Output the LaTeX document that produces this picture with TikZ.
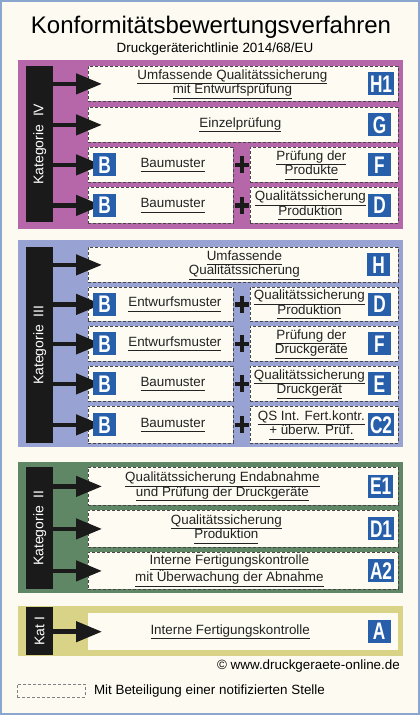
\documentclass[tikz,border=0pt]{standalone}
\usepackage{fontspec}
\setmainfont{Liberation Sans}
\newfontfamily\badgefont{Liberation Sans}[FakeStretch=0.72]
\usetikzlibrary{arrows.meta,calc}

\definecolor{paper}{RGB}{253,251,241}
\definecolor{boxfill}{RGB}{254,252,242}
\definecolor{frameblue}{RGB}{138,166,207}
\definecolor{magentapanel}{RGB}{181,103,170}
\definecolor{bluepanel}{RGB}{152,163,212}
\definecolor{greenpanel}{RGB}{96,135,101}
\definecolor{yellowpanel}{RGB}{216,211,135}
\definecolor{badgeblue}{RGB}{40,95,170}
\definecolor{barblack}{RGB}{26,26,26}
\definecolor{dashgrey}{RGB}{70,70,70}
\definecolor{textgrey}{RGB}{34,34,34}

\newcommand\ul[1]{\underline{#1\vphantom{g}}}

\tikzset{
  panel/.style={fill=#1, anchor=north west, minimum width=385pt, inner sep=0pt},
  catbar/.style={fill=barblack, anchor=north west, minimum width=27pt, inner sep=0pt},
  cattext/.style={text=white, rotate=90, inner sep=0pt, font=\fontsize{14}{14}\selectfont},
  procbox/.style={draw=dashgrey, dash pattern=on 3pt off 2pt, line width=0.8pt,
    fill=boxfill, anchor=north west, inner sep=0pt},
  fullbox/.style={procbox, minimum width=310pt},
  leftbox/.style={procbox, minimum width=145pt},
  rightbox/.style={procbox, minimum width=148pt},
  plainbox/.style={fill=boxfill, anchor=north west, inner sep=0pt, minimum width=310pt},
  badge/.style={fill=badgeblue, text=white, anchor=west, inner xsep=2pt, inner ysep=0pt,
    minimum height=23pt, minimum width=23pt,
    font=\badgefont\bfseries\fontsize{24}{24}\selectfont},
  lbl/.style={align=center, text=textgrey, inner sep=0pt, font=\fontsize{13.4}{14.5}\selectfont},
  catarrow/.style={draw=barblack, line width=4.5pt, -{Triangle[length=26pt,width=20pt]},
    shorten >=-14pt},
  plusmark/.style={minimum width=14pt, minimum height=17pt, inner sep=0pt,
    path picture={\draw[barblack, line width=4.5pt]
      (path picture bounding box.north) -- (path picture bounding box.south)
      (path picture bounding box.west) -- (path picture bounding box.east);}}
}

\begin{document}
\begin{tikzpicture}[x=1pt, y=-1pt]
    \useasboundingbox (0,0) rectangle (420,715);
    \fill[paper] (0,0) rectangle (420,715);
    \draw[frameblue, line width=1.5pt] (1,1) rectangle (419,714);

    % Title
    \node [anchor=base, font=\fontsize{24}{24}\selectfont] (title) at (211,33)
      {Konformitätsbewertungsverfahren};
    \node [anchor=base, font=\fontsize{13.4}{14}\selectfont] (subtitle) at (215,52)
      {Druckgeräterichtlinie 2014/68/EU};

    % Kategorie IV
    \node [panel=magentapanel, minimum height=169pt] (katIV) at (18,60) {};
    \node [catbar, minimum height=156pt] (barIV) at (26,66) {};
    \node [cattext] (txtIV) at (barIV) {Kategorie\ \ IV};

    \node [fullbox, minimum height=35pt] (iv1) at (88,66) {};
    \node [fullbox, minimum height=35pt] (iv2) at (88,107) {};
    \node [leftbox, minimum height=35pt] (iv3l) at (88,147) {};
    \node [rightbox, minimum height=35pt] (iv3r) at (250,147) {};
    \node [leftbox, minimum height=36pt] (iv4l) at (88,187) {};
    \node [rightbox, minimum height=36pt] (iv4r) at (250,187) {};

    \draw [catarrow] (barIV.east |- iv1.west) -- (iv1.west);
    \draw [catarrow] (barIV.east |- iv2.west) -- (iv2.west);
    \draw [catarrow] (barIV.east |- iv3l.west) -- (iv3l.west);
    \draw [catarrow] (barIV.east |- iv4l.west) -- (iv4l.west);

    \node [badge] (iv1c) at ([xshift=-31pt]iv1.east) {H1};
    \node [badge] (iv2c) at ([xshift=-31pt]iv2.east) {G};
    \node [badge] (iv3b) at ([xshift=5pt]iv3l.west) {B};
    \node [badge] (iv3c) at ([xshift=-31pt]iv3r.east) {F};
    \node [badge] (iv4b) at ([xshift=5pt]iv4l.west) {B};
    \node [badge] (iv4c) at ([xshift=-31pt]iv4r.east) {D};

    \node [plusmark] (iv3p) at ($(iv3l.east)!0.5!(iv3r.west)$) {};
    \node [plusmark] (iv4p) at ($(iv4l.east)!0.5!(iv4r.west)$) {};

    \node [lbl] (iv1t) at ([xshift=-11pt]iv1.center)
      {\ul{Umfassende Qualitätssicherung}\\\ul{mit Entwurfsprüfung}};
    \node [lbl] (iv2t) at ([xshift=-3pt]iv2.center) {\ul{Einzelprüfung}};
    \node [lbl] (iv3lt) at ([xshift=12pt]iv3l.center) {\ul{Baumuster}};
    \node [lbl] (iv3rt) at ([xshift=-13pt]iv3r.center) {\ul{Prüfung der}\\\ul{Produkte}};
    \node [lbl] (iv4lt) at ([xshift=12pt]iv4l.center) {\ul{Baumuster}};
    \node [lbl] (iv4rt) at ([xshift=-14pt]iv4r.center) {\ul{Qualitätssicherung}\\\ul{Produktion}};

    % Kategorie III
    \node [panel=bluepanel, minimum height=207pt] (katIII) at (18,240) {};
    \node [catbar, minimum height=196pt] (barIII) at (26,247) {};
    \node [cattext] (txtIII) at (barIII) {Kategorie\ \ III};

    \node [fullbox, minimum height=35pt] (iii1) at (88,247) {};
    \node [leftbox, minimum height=34pt] (iii2l) at (88,287) {};
    \node [rightbox, minimum height=34pt] (iii2r) at (250,287) {};
    \node [leftbox, minimum height=35pt] (iii3l) at (88,326) {};
    \node [rightbox, minimum height=35pt] (iii3r) at (250,326) {};
    \node [leftbox, minimum height=35pt] (iii4l) at (88,366) {};
    \node [rightbox, minimum height=35pt] (iii4r) at (250,366) {};
    \node [leftbox, minimum height=37pt] (iii5l) at (88,406) {};
    \node [rightbox, minimum height=37pt] (iii5r) at (250,406) {};

    \draw [catarrow] (barIII.east |- iii1.west) -- (iii1.west);
    \draw [catarrow] (barIII.east |- iii2l.west) -- (iii2l.west);
    \draw [catarrow] (barIII.east |- iii3l.west) -- (iii3l.west);
    \draw [catarrow] (barIII.east |- iii4l.west) -- (iii4l.west);
    \draw [catarrow] (barIII.east |- iii5l.west) -- (iii5l.west);

    \node [badge] (iii1c) at ([xshift=-32pt]iii1.east) {H};
    \node [badge] (iii2b) at ([xshift=5pt]iii2l.west) {B};
    \node [badge] (iii2c) at ([xshift=-31pt]iii2r.east) {D};
    \node [badge] (iii3b) at ([xshift=5pt]iii3l.west) {B};
    \node [badge] (iii3c) at ([xshift=-31pt]iii3r.east) {F};
    \node [badge] (iii4b) at ([xshift=5pt]iii4l.west) {B};
    \node [badge] (iii4c) at ([xshift=-31pt]iii4r.east) {E};
    \node [badge] (iii5b) at ([xshift=5pt]iii5l.west) {B};
    \node [badge] (iii5c) at ([xshift=-31pt]iii5r.east) {C2};

    \node [plusmark] (iii2p) at ($(iii2l.east)!0.5!(iii2r.west)$) {};
    \node [plusmark] (iii3p) at ($(iii3l.east)!0.5!(iii3r.west)$) {};
    \node [plusmark] (iii4p) at ($(iii4l.east)!0.5!(iii4r.west)$) {};
    \node [plusmark] (iii5p) at ($(iii5l.east)!0.5!(iii5r.west)$) {};

    \node [lbl] (iii1t) at ([xshift=1pt]iii1.center) {\ul{Umfassende}\\\ul{Qualitätssicherung}};
    \node [lbl] (iii2lt) at ([xshift=14pt]iii2l.center) {\ul{Entwurfsmuster}};
    \node [lbl] (iii2rt) at ([xshift=-15pt]iii2r.center) {\ul{Qualitätssicherung}\\\ul{Produktion}};
    \node [lbl] (iii3lt) at ([xshift=14pt]iii3l.center) {\ul{Entwurfsmuster}};
    \node [lbl] (iii3rt) at ([xshift=-13pt]iii3r.center) {\ul{Prüfung der}\\\ul{Druckgeräte}};
    \node [lbl] (iii4lt) at ([xshift=12pt]iii4l.center) {\ul{Baumuster}};
    \node [lbl] (iii4rt) at ([xshift=-15pt]iii4r.center) {\ul{Qualitätssicherung}\\\ul{Druckgerät}};
    \node [lbl] (iii5lt) at ([xshift=12pt]iii5l.center) {\ul{Baumuster}};
    \node [lbl] (iii5rt) at ([xshift=-13pt]iii5r.center) {\ul{QS Int. Fert.kontr.}\\\ul{+ überw. Prüf.}};

    % Kategorie II
    \node [panel=greenpanel, minimum height=131pt] (katII) at (18,462) {};
    \node [catbar, minimum height=122pt] (barII) at (26,467) {};
    \node [cattext] (txtII) at (barII) {Kategorie\ \ II};

    \node [fullbox, minimum height=38pt] (ii1) at (88,467) {};
    \node [fullbox, minimum height=37pt] (ii2) at (88,510) {};
    \node [fullbox, minimum height=37pt] (ii3) at (88,552) {};

    \draw [catarrow] (barII.east |- ii1.west) -- (ii1.west);
    \draw [catarrow] (barII.east |- ii2.west) -- (ii2.west);
    \draw [catarrow] (barII.east |- ii3.west) -- (ii3.west);

    \node [badge] (ii1c) at ([xshift=-31pt]ii1.east) {E1};
    \node [badge] (ii2c) at ([xshift=-31pt]ii2.east) {D1};
    \node [badge] (ii3c) at ([xshift=-31pt]ii3.east) {A2};

    \node [lbl] (ii1t) at ([xshift=-21pt]ii1.center)
      {\ul{Qualitätssicherung Endabnahme}\\\ul{und Prüfung der Druckgeräte}};
    \node [lbl] (ii2t) at ([xshift=-17pt]ii2.center) {\ul{Qualitätssicherung}\\\ul{Produktion}};
    \node [lbl] (ii3t) at ([xshift=-14pt]ii3.center)
      {\ul{Interne Fertigungskontrolle}\\\ul{mit Überwachung der Abnahme}};

    % Kategorie I
    \node [panel=yellowpanel, minimum height=50pt] (katI) at (18,606) {};
    \node [catbar, minimum height=48pt] (barI) at (26,607) {};
    \node [cattext] (txtI) at (barI) {Kat I};

    \node [plainbox, minimum height=37pt] (i1) at (88,613) {};
    \draw [catarrow] (barI.east |- i1.west) -- (i1.west);
    \node [badge] (i1c) at ([xshift=-31pt]i1.east) {A};
    \node [lbl] (i1t) at ([xshift=-13pt]i1.center) {\ul{Interne Fertigungskontrolle}};

    % Copyright and legend
    \node [anchor=base east, font=\fontsize{13.4}{14}\selectfont, inner sep=0pt] (copy) at (400,669)
      {© www.druckgeraete-online.de};
    \node [procbox, fill=none, draw=gray, minimum width=68pt, minimum height=13pt] (legend) at (17,684) {};
    \node [anchor=base west, font=\fontsize{13.4}{14}\selectfont, inner sep=0pt] (legendt)
      at ([xshift=8pt, yshift=-4pt]legend.east) {Mit Beteiligung einer notifizierten Stelle};
\end{tikzpicture}
\end{document}
